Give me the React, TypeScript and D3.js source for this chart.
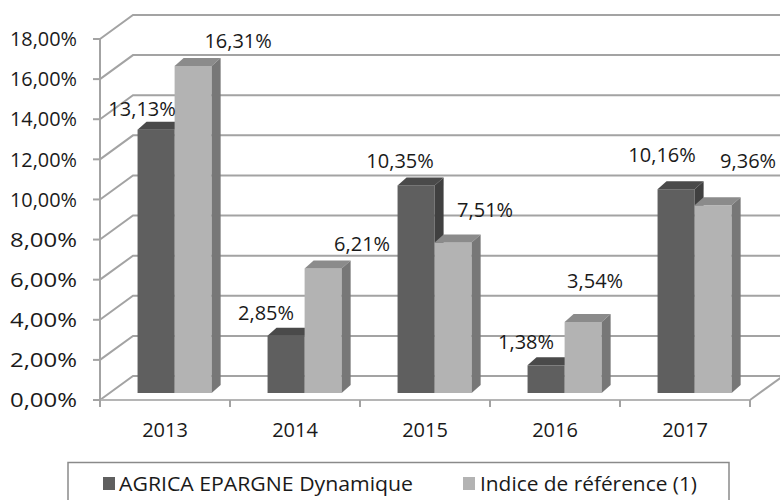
import React from "react";
import * as d3 from "d3";

const categories = ["2013", "2014", "2015", "2016", "2017"];
const seriesNames = ["AGRICA EPARGNE Dynamique", "Indice de référence (1)"];
const agricaValues = [13.13, 2.85, 10.35, 1.38, 10.16];
const indiceValues = [16.31, 6.21, 7.51, 3.54, 9.36];
const yTicks = [0, 2, 4, 6, 8, 10, 12, 14, 16, 18];

// label nudges (text centre relative to bar front-top centre)
const agricaLabelNudge = [[-14, -21], [-20, -23], [-16, -25], [-20, -24], [-14, -34]];
const indiceLabelNudge = [[45, -25], [39, -25], [32, -33], [12, -41], [35, -44]];

const W = 780;
const H = 500;
const FONT = "'Open Sans', 'Noto Sans', sans-serif";
const FS = 20;

const fmt = (v: number) => d3.format(".2f")(v).replace(".", ",") + "%";

const palette = [
  { front: "#5f5f5f", top: "#4a4a4a", side: "#404040" },
  { front: "#b3b3b3", top: "#8b8b8b", side: "#777777" },
];

export default function App() {
  const x0 = 100;
  const x1 = 750;
  const y = d3.scaleLinear().domain([0, 18]).range([400, 39]);
  const x = d3.scaleBand<string>().domain(categories).range([x0, x1]).padding(0);
  const bw = x.bandwidth();
  const groupW = bw * 0.57;
  const xs = d3
    .scaleBand<string>()
    .domain(seriesNames)
    .range([(bw - groupW) / 2, (bw + groupW) / 2])
    .padding(0);

  const DX = 33;
  const DY = -24;
  const BX = 9.6;
  const BY = -7;
  const bdx = 9;
  const bdy = -8;

  const gridColor = "#a3a3a3";
  const textColor = "#1a1a1a";

  const walls: JSX.Element[] = [];
  yTicks.forEach((t, i) => {
    const yf = y(t);
    walls.push(
      <polyline
        key={"g" + i}
        points={`${x0},${yf} ${x0 + DX},${yf + DY} ${W + 5},${yf + DY}`}
        fill="none"
        stroke={gridColor}
        strokeWidth={2}
      />
    );
    walls.push(
      <line key={"t" + i} x1={x0 - 7} x2={x0} y1={yf} y2={yf} stroke={gridColor} strokeWidth={2} />
    );
    walls.push(
      <text
        key={"l" + i}
        x={77}
        y={yf}
        dy="0.36em"
        textAnchor="end"
        fontFamily={FONT}
        fontSize={FS}
        fill={textColor}
        textLength={67}
        lengthAdjust="spacingAndGlyphs"
      >
        {fmt(t)}
      </text>
    );
  });

  const series = [agricaValues, indiceValues];
  const nudges = [agricaLabelNudge, indiceLabelNudge];

  const bars: JSX.Element[] = [];
  const labels: JSX.Element[] = [];
  categories.forEach((c, ci) => {
    series.forEach((vals, si) => {
      const v = vals[ci];
      const bx = (x(c) as number) + (xs(seriesNames[si]) as number) + BX;
      const w = xs.bandwidth();
      const base = y(0) + BY;
      const top = y(v) + BY;
      const col = palette[si];
      bars.push(
        <g key={`b${ci}-${si}`}>
          <rect x={bx} y={top} width={w} height={base - top} fill={col.front} />
          <polygon
            points={`${bx},${top} ${bx + bdx},${top + bdy} ${bx + w + bdx},${top + bdy} ${bx + w},${top}`}
            fill={col.top}
          />
          <polygon
            points={`${bx + w},${top} ${bx + w + bdx},${top + bdy} ${bx + w + bdx},${base + bdy} ${bx + w},${base}`}
            fill={col.side}
          />
        </g>
      );
      const [nx, ny] = nudges[si][ci];
      labels.push(
        <text
          key={`v${ci}-${si}`}
          x={bx + w / 2 + nx}
          y={top + ny}
          dy="0.36em"
          textAnchor="middle"
          fontFamily={FONT}
          fontSize={FS}
          fill={textColor}
        >
          {fmt(v)}
        </text>
      );
    });
  });

  const catLabels = categories.map((c) => (
    <text
      key={"c" + c}
      x={(x(c) as number) + bw / 2}
      y={430}
      dy="0.36em"
      textAnchor="middle"
      fontFamily={FONT}
      fontSize={FS}
      fill={textColor}
    >
      {c}
    </text>
  ));

  const xTickPos = [...categories.map((c) => x(c) as number), x1];

  return (
    <svg
      width={W}
      height={H}
      style={{ position: "absolute", left: 0, top: 0, background: "#fff" }}
    >
      <rect x={0} y={0} width={W} height={H} fill="#fff" />
      {walls}
      <polyline
        points={`${x1},${y(0)} ${x1 + DX},${y(0) + DY}`}
        fill="none"
        stroke={gridColor}
        strokeWidth={2}
      />
      <line x1={x0} x2={x1} y1={y(0)} y2={y(0)} stroke="#b5b5b5" strokeWidth={2} />
      <line x1={x0} x2={x0} y1={y(18)} y2={y(0)} stroke={gridColor} strokeWidth={2} />
      {xTickPos.map((p, i) => (
        <line key={"xt" + i} x1={p} x2={p} y1={y(0)} y2={y(0) + 7} stroke={gridColor} strokeWidth={2} />
      ))}
      {bars}
      {labels}
      {catLabels}
      <rect x={68} y={462.5} width={661} height={60} fill="#fff" stroke="#8a8a8a" strokeWidth={1.5} />
      <rect x={103} y={477} width={12} height={13} fill={palette[0].front} />
      <text x={119} y={484} dy="0.36em" fontFamily={FONT} fontSize={FS} fill={textColor} textLength={294} lengthAdjust="spacingAndGlyphs">
        {seriesNames[0]}
      </text>
      <rect x={463} y={477} width={12} height={13} fill={palette[1].front} />
      <text x={480} y={484} dy="0.36em" fontFamily={FONT} fontSize={FS} fill={textColor} textLength={217} lengthAdjust="spacingAndGlyphs">
        {seriesNames[1]}
      </text>
    </svg>
  );
}
